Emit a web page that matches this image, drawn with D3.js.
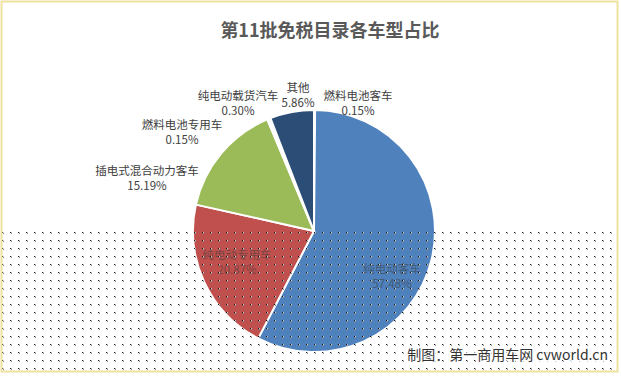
<!DOCTYPE html>
<html>
<head>
<meta charset="utf-8">
<script src="https://cdn.jsdelivr.net/npm/d3@7"></script>
<style>
  body { margin: 0; background: #fff; }
  text { font-family: "Noto Sans CJK SC", "Noto Sans", sans-serif; }
</style>
</head>
<body>
<div id="container"></div>
<script>
/* DATA */
const categories = ["燃料电池客车", "纯电动客车", "纯电动专用车", "插电式混合动力客车", "燃料电池专用车", "纯电动载货汽车", "其他"]
const shares = [0.15, 57.48, 20.87, 15.19, 0.15, 0.30, 5.86]
const colors = ["#c9d7ea", "#4f81bd", "#c0504d", "#9bbb59", "#d8d0e4", "#d5ebf1", "#2c4d75"]

const width = 621, height = 376
const cx = 314, cy = 231, radius = 121

const svg = d3.select("#container")
  .append("svg")
  .attr("width", width)
  .attr("height", height)

// dotted watermark pattern
const defs = svg.append("defs")
const pat = defs.append("pattern")
  .attr("id", "dots")
  .attr("width", 8).attr("height", 8)
  .attr("patternUnits", "userSpaceOnUse")
  .attr("x", 2).attr("y", 232)
pat.append("rect").attr("x", 0).attr("y", 0).attr("width", 1).attr("height", 1).attr("fill", "#111")
pat.append("rect").attr("x", 1).attr("y", 1).attr("width", 1).attr("height", 1).attr("fill", "#888")
pat.append("rect").attr("x", 1).attr("y", 0).attr("width", 1).attr("height", 1).attr("fill", "#ccc")

// title
svg.append("text")
  .attr("x", 330)
  .attr("y", 37)
  .attr("text-anchor", "middle")
  .attr("font-size", 18)
  .attr("font-weight", "bold")
  .attr("fill", "#595959")
  .text("第11批免税目录各车型占比")

// PIE
const pie = d3.pie().sort(null).value(d => d)
const arcs = pie(shares)
const arcGen = d3.arc().innerRadius(0).outerRadius(radius)

const g = svg.append("g").attr("transform", `translate(${cx}, ${cy})`)
g.selectAll(".slice")
  .data(arcs)
  .join("path")
  .attr("class", "slice")
  .attr("d", arcGen)
  .attr("fill", (d, i) => colors[i])
  .attr("stroke", "#fff")
  .attr("stroke-width", 2)

// outside label positions (placed like the excel data labels)
const labelPos = [
  [358, 100], null, null, [147, 175], [182, 129], [238, 100], [298, 92]
]
// inside label positions
const insidePos = [null, [392, 273], [237, 259], null, null, null, null]

arcs.forEach((d, i) => {
  const pos = labelPos[i] || insidePos[i]
  const inside = !labelPos[i]
  const t = svg.append("text")
    .attr("text-anchor", "middle")
    .attr("font-size", 11.5)
    .attr("fill", inside ? "#3a3a3a" : "#404040")
    .attr("opacity", inside ? 0.55 : 1)
  t.append("tspan").attr("x", pos[0]).attr("y", pos[1]).text(categories[i])
  t.append("tspan").attr("x", pos[0]).attr("y", pos[1] + 14.5).text(d3.format(".2f")(shares[i]) + "%")
})

// dotted overlay on lower half
svg.append("rect")
  .attr("x", 2).attr("y", 229)
  .attr("width", 615).attr("height", 143)
  .attr("fill", "url(#dots)")

// source note
svg.append("text")
  .attr("x", 608)
  .attr("y", 360)
  .attr("text-anchor", "end")
  .attr("font-size", 14)
  .attr("fill", "#333")
  .attr("stroke", "#fff")
  .attr("stroke-width", 3)
  .attr("paint-order", "stroke")
  .text("制图：第一商用车网 cvworld.cn")

// frame
svg.append("rect")
  .attr("x", 1.5).attr("y", 1.5)
  .attr("width", 616).attr("height", 370)
  .attr("fill", "none")
  .attr("stroke", "#eee2a0")
  .attr("stroke-width", 2)
</script>
</body>
</html>
